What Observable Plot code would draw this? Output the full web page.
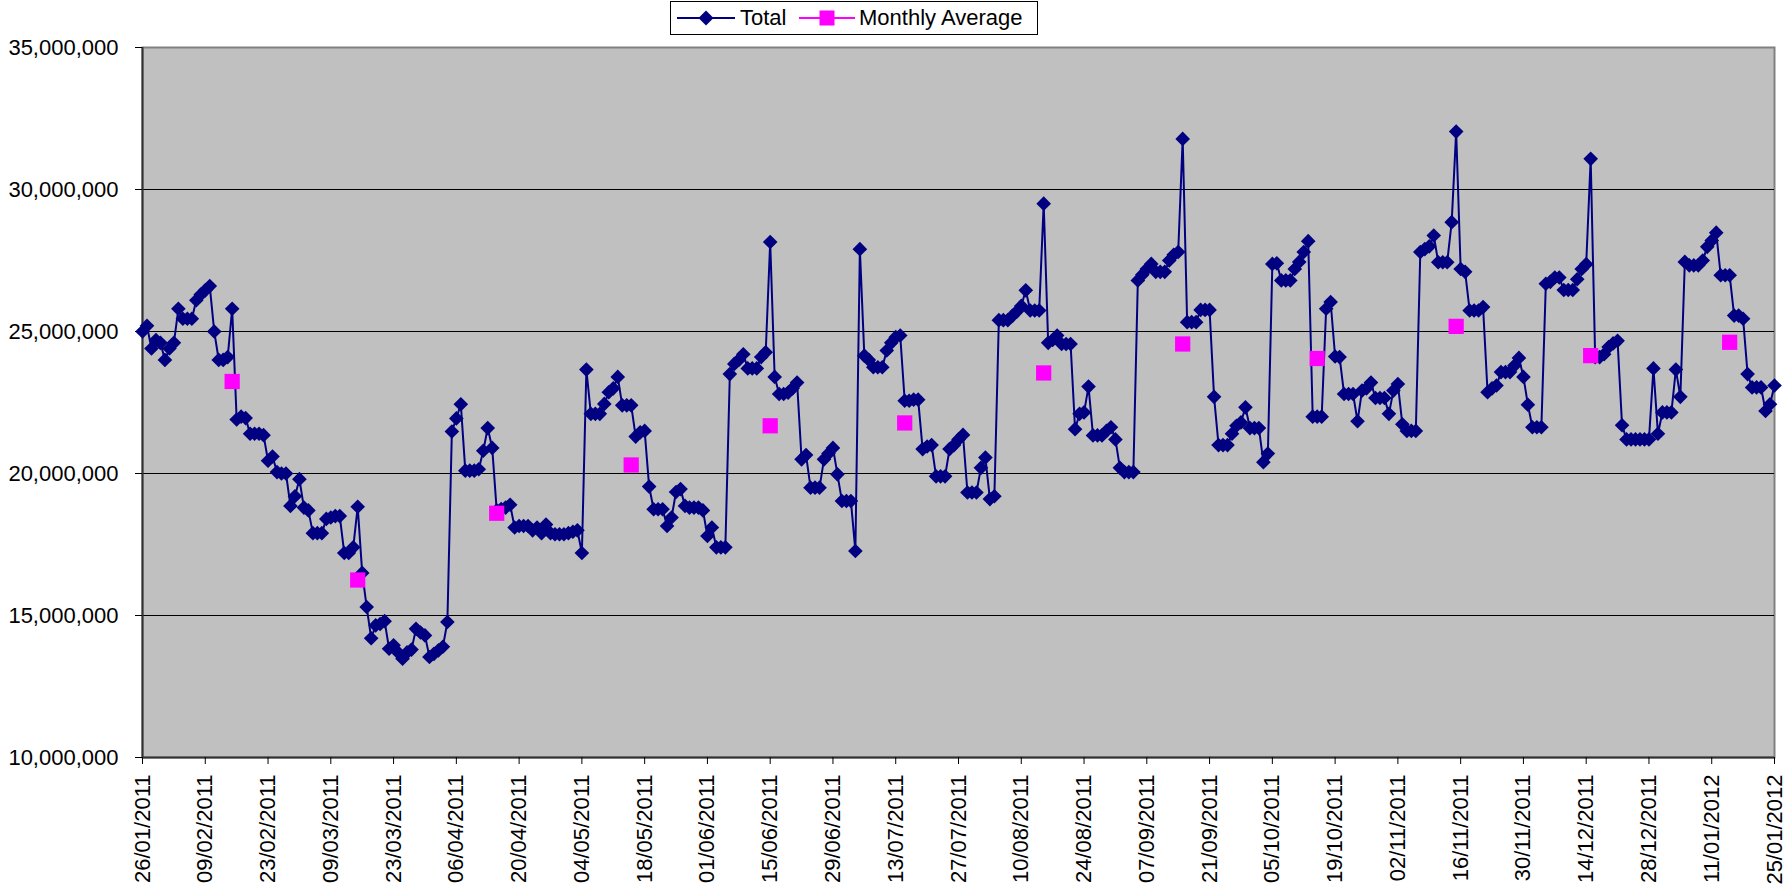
<!DOCTYPE html>
<html>
<head>
<meta charset="utf-8">
<script src="https://cdn.jsdelivr.net/npm/d3@7"></script>
<script src="https://cdn.jsdelivr.net/npm/@observablehq/plot@0.6"></script>
<style>
  body { margin: 0; background: #fff; font-family: "Liberation Sans", Arial, sans-serif; }
  #legend { position: relative; height: 40px; width: 1785px; }
  #legend .box { position: absolute; left: 670px; top: 1px; width: 368px; height: 34px; border: 1px solid #000; box-sizing: border-box; background: #fff; }
  #legend .txt { position: absolute; top: 7px; font-size: 22px; line-height: 22px; color: #000; white-space: nowrap; }
  #legend svg { position: absolute; top: 8px; }
</style>
</head>
<body>
<div id="legend">
  <div class="box"></div>
  <svg style="left:675px" width="62" height="20"><line x1="2" y1="10" x2="60" y2="10" stroke="#000080" stroke-width="2"/><path d="M31,2.5 L38.5,10 L31,17.5 L23.5,10 Z" fill="#000080"/></svg>
  <span class="txt" style="left:740px">Total</span>
  <svg style="left:797px" width="62" height="20"><line x1="2" y1="10" x2="58" y2="10" stroke="#ff00ff" stroke-width="2"/><rect x="22.5" y="2.5" width="15" height="15" fill="#ff00ff"/></svg>
  <span class="txt" style="left:859px">Monthly Average</span>
</div>
<div id="chart"></div>
<script>
// ---- data ----
const seriesNames = ["Total", "Monthly Average"];
const startDate = "2011-01-26";   // first daily value
const endDate = "2012-01-25";     // last daily value
// daily totals, in millions
const totalValues = [
  25.0, 25.2, 24.4, 24.7, 24.6, 24.0, 24.4, 24.6, 25.8, 25.45,
  25.45, 25.45, 26.1, 26.3, 26.45, 26.6, 25.0, 24.0, 24.0, 24.1,
  25.8, 21.9, 22.0, 21.95, 21.4, 21.4, 21.4, 21.35, 20.45, 20.6,
  20.05, 20.0, 20.0, 18.86, 19.2, 19.8, 18.8, 18.7, 17.9, 17.9,
  17.9, 18.4, 18.45, 18.5, 18.5, 17.2, 17.2, 17.4, 18.83, 16.5,
  15.3, 14.2, 14.65, 14.7, 14.8, 13.83, 13.95, 13.7, 13.48, 13.7,
  13.8, 14.53, 14.4, 14.3, 13.54, 13.65, 13.77, 13.9, 14.77, 21.48,
  21.94, 22.44, 20.1, 20.1, 20.1, 20.15, 20.8, 21.6, 20.9, 18.7,
  18.75, 18.8, 18.9, 18.1, 18.15, 18.15, 18.15, 18.0, 18.1, 17.9,
  18.2, 17.9, 17.86, 17.86, 17.86, 17.9, 17.95, 18.0, 17.2, 23.66,
  22.1, 22.1, 22.1, 22.45, 22.86, 23.0, 23.4, 22.4, 22.4, 22.4,
  21.3, 21.45, 21.5, 19.54, 18.74, 18.74, 18.74, 18.15, 18.45, 19.35,
  19.45, 18.86, 18.8, 18.8, 18.8, 18.7, 17.8, 18.1, 17.4, 17.4,
  17.4, 23.5, 23.86, 24.0, 24.2, 23.7, 23.7, 23.7, 24.1, 24.27,
  28.15, 23.4, 22.8, 22.8, 22.85, 23.0, 23.2, 20.5, 20.65, 19.5,
  19.5, 19.5, 20.5, 20.7, 20.9, 19.97, 19.03, 19.03, 19.03, 17.27,
  27.9, 24.15, 24.0, 23.74, 23.74, 23.74, 24.33, 24.6, 24.8, 24.86,
  22.56, 22.56, 22.6, 22.6, 20.86, 20.95, 21.0, 19.9, 19.9, 19.9,
  20.86, 21.0, 21.2, 21.36, 19.33, 19.33, 19.33, 20.2, 20.56, 19.1,
  19.2, 25.4, 25.4, 25.4, 25.55, 25.7, 25.9, 26.45, 25.74, 25.74,
  25.74, 29.5, 24.6, 24.7, 24.86, 24.56, 24.56, 24.56, 21.56, 22.1,
  22.15, 23.06, 21.34, 21.34, 21.34, 21.5, 21.63, 21.2, 20.2, 20.05,
  20.05, 20.05, 26.8, 27.0, 27.2, 27.38, 27.1, 27.1, 27.1, 27.5,
  27.7, 27.8, 31.78, 25.33, 25.33, 25.33, 25.76, 25.76, 25.76, 22.7,
  21.0, 21.0, 21.0, 21.4, 21.68, 21.8, 22.33, 21.6, 21.6, 21.6,
  20.4, 20.7, 27.38, 27.4, 26.8, 26.8, 26.8, 27.2, 27.45, 27.8,
  28.18, 22.0, 22.0, 22.0, 25.8, 26.04, 24.12, 24.1, 22.8, 22.8,
  22.8, 21.84, 22.92, 23.0, 23.2, 22.66, 22.66, 22.66, 22.1, 22.92,
  23.15, 21.73, 21.5, 21.5, 21.5, 27.8, 27.9, 28.0, 28.38, 27.44,
  27.44, 27.44, 28.85, 32.04, 27.2, 27.1, 25.74, 25.74, 25.74, 25.86,
  22.86, 23.0, 23.1, 23.57, 23.57, 23.57, 23.8, 24.07, 23.4, 22.42,
  21.63, 21.63, 21.63, 26.68, 26.75, 26.9, 26.9, 26.46, 26.46, 26.46,
  26.84, 27.2, 27.37, 31.08, 24.1, 24.1, 24.2, 24.45, 24.58, 24.67,
  21.7, 21.2, 21.2, 21.2, 21.2, 21.2, 21.2, 23.7, 21.4, 22.15,
  22.15, 22.15, 23.66, 22.7, 27.45, 27.33, 27.33, 27.33, 27.5, 27.98,
  28.2, 28.48, 26.98, 26.98, 26.98, 25.56, 25.56, 25.45, 23.5, 23.03,
  23.03, 23.03, 22.2, 22.44, 23.1
];
// monthly averages (plotted on the 15th), in millions
const monthlyDates = ["2011-02-15", "2011-03-15", "2011-04-15", "2011-05-15", "2011-06-15", "2011-07-15",
                      "2011-08-15", "2011-09-15", "2011-10-15", "2011-11-15", "2011-12-15", "2012-01-15"];
const monthlyValues = [23.24, 16.25, 18.6, 20.3, 21.68, 21.78, 23.54, 24.56, 24.05, 25.18, 24.15, 24.62];
// axis ticks
const yTicks = [10000000, 15000000, 20000000, 25000000, 30000000, 35000000];
const xTickLabels = ["26/01/2011", "09/02/2011", "23/02/2011", "09/03/2011", "23/03/2011", "06/04/2011", "20/04/2011",
  "04/05/2011", "18/05/2011", "01/06/2011", "15/06/2011", "29/06/2011", "13/07/2011", "27/07/2011", "10/08/2011",
  "24/08/2011", "07/09/2011", "21/09/2011", "05/10/2011", "19/10/2011", "02/11/2011", "16/11/2011", "30/11/2011",
  "14/12/2011", "28/12/2011", "11/01/2012", "25/01/2012"];

// ---- build tables ----
const parseISO = d3.utcParse("%Y-%m-%d");
const parseDMY = d3.utcParse("%d/%m/%Y");
const t0 = parseISO(startDate);
const t1 = parseISO(endDate);
const total = totalValues.map((v, i) => ({date: d3.utcDay.offset(t0, i), value: v * 1e6}));
const monthly = monthlyDates.map((s, i) => ({date: parseISO(s), value: monthlyValues[i] * 1e6}));
const xTicks = xTickLabels.map(parseDMY);

const chart = Plot.plot({
  width: 1785,
  height: 851,
  marginLeft: 142,
  marginRight: 11,
  marginTop: 7,
  marginBottom: 134,
  style: {fontFamily: "'Liberation Sans', Arial, sans-serif", fontSize: "22px", color: "#000", background: "#fff", overflow: "visible"},
  x: {type: "utc", domain: [t0, t1]},
  y: {domain: [10000000, 35000000]},
  marks: [
    Plot.frame({fill: "#c0c0c0", stroke: "#808080", strokeWidth: 2}),
    Plot.gridY(yTicks.slice(1, -1), {stroke: "#000", strokeOpacity: 1, strokeWidth: 1}),
    Plot.ruleX([t0], {stroke: "#333", strokeWidth: 2}),
    Plot.ruleY([10000000], {stroke: "#333", strokeWidth: 2}),
    Plot.axisY(yTicks, {tickFormat: d3.format(","), tickSize: 7, tickPadding: 17, label: null, fontSize: 22}),
    Plot.axisX(xTicks, {tickFormat: d3.utcFormat("%d/%m/%Y"), tickRotate: -90, tickSize: 7, tickPadding: 10, label: null, fontSize: 22}),
    Plot.line(total, {x: "date", y: "value", stroke: "#000080", strokeWidth: 2}),
    Plot.dot(total, {x: "date", y: "value", symbol: "diamond2", r: 6.6, fill: "#000080", stroke: "none"}),
    Plot.dot(monthly, {x: "date", y: "value", symbol: "square", r: 8.6, fill: "#ff00ff", stroke: "none"})
  ]
});
document.getElementById("chart").appendChild(chart);
</script>
</body>
</html>
